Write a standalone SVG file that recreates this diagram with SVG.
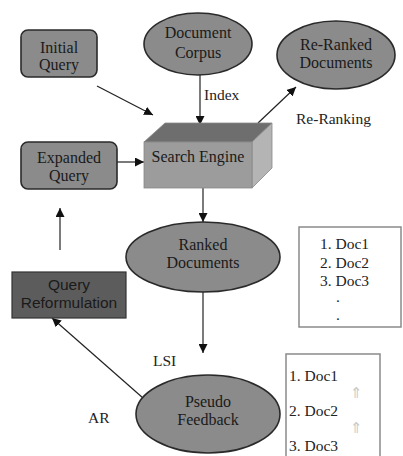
<svg xmlns="http://www.w3.org/2000/svg" width="403" height="456" viewBox="0 0 403 456">
<defs>
<marker id="ah" viewBox="0 0 10 10" refX="10" refY="5" markerWidth="9" markerHeight="9" markerUnits="userSpaceOnUse" orient="auto">
<path d="M0,0 L10,5 L0,10 z" fill="#111"/>
</marker>
<style>
.serif{font-family:"Liberation Serif","Times New Roman",serif;font-size:16px;fill:#1a1a1a;text-anchor:middle}
.lbl{font-family:"Liberation Serif","Times New Roman",serif;font-size:15.5px;fill:#222}
.sans{font-family:"Liberation Sans",Arial,sans-serif;font-size:15.5px;fill:#1a1a1a;text-anchor:middle}
.node{fill:#8b8b8b;stroke:#2a2a2a;stroke-width:1.6}
.conn{stroke:#222;stroke-width:1.2;fill:none}
.list{fill:#fff;stroke:#8a8a8a;stroke-width:1.5}
.up{font-family:"DejaVu Sans",sans-serif;font-size:15px;fill:#c8c8c8;text-anchor:middle}
</style>
</defs>
<rect width="403" height="456" fill="#fff"/>

<g id="connectors">
<line class="conn" x1="97" y1="86" x2="153" y2="115" marker-end="url(#ah)"/>
<line class="conn" x1="200" y1="75" x2="200" y2="125" stroke="#777" marker-end="url(#ah)"/>
<line class="conn" x1="258" y1="123" x2="296" y2="87" marker-end="url(#ah)"/>
<line class="conn" x1="117" y1="162" x2="144" y2="162" marker-end="url(#ah)"/>
<line class="conn" x1="203" y1="188" x2="203" y2="222" marker-end="url(#ah)"/>
<line class="conn" x1="203" y1="292" x2="203" y2="353" marker-end="url(#ah)"/>
<line class="conn" x1="60" y1="250" x2="60" y2="208" marker-end="url(#ah)"/>
<line class="conn" x1="143" y1="398" x2="52" y2="318" stroke="#444" marker-end="url(#ah)"/>
<text class="lbl" x="204" y="100">Index</text>
<text class="lbl" x="296" y="124">Re-Ranking</text>
<text class="lbl" x="153" y="366">LSI</text>
<text class="lbl" x="88" y="423">AR</text>
</g>

<g id="initial-query">
<rect class="node" x="21" y="30" width="76" height="47" rx="7"/>
<text class="serif" x="59" y="53">Initial</text>
<text class="serif" x="59" y="70">Query</text>
</g>

<g id="document-corpus">
<ellipse class="node" cx="198" cy="44" rx="54" ry="31"/>
<text class="serif" x="198" y="38">Document</text>
<text class="serif" x="198" y="58">Corpus</text>
</g>

<g id="re-ranked-documents">
<ellipse class="node" cx="336" cy="55" rx="59" ry="34"/>
<text class="serif" x="336" y="50">Re-Ranked</text>
<text class="serif" x="336" y="68">Documents</text>
</g>

<g id="expanded-query">
<rect class="node" x="21" y="142" width="96" height="47" rx="7"/>
<text class="serif" x="69" y="163">Expanded</text>
<text class="serif" x="69" y="181">Query</text>
</g>

<g id="search-engine">
<polygon points="144,142 165,123 272,123 252,142" fill="#6e6e6e" stroke="#888" stroke-width="0.8"/>
<polygon points="252,142 272,123 272,168 252,188" fill="#b4b4b4" stroke="#888" stroke-width="0.8"/>
<rect x="144" y="142" width="108" height="46" fill="#9c9c9c" stroke="#888" stroke-width="0.8"/>
<text class="serif" x="198" y="162">Search Engine</text>
</g>

<g id="ranked-documents">
<ellipse class="node" cx="203" cy="257" rx="77" ry="35"/>
<text class="serif" x="203" y="250">Ranked</text>
<text class="serif" x="203" y="268">Documents</text>
</g>

<g id="ranked-list">
<rect class="list" x="299" y="227" width="102" height="100"/>
<text class="lbl" x="320" y="249">1. Doc1</text>
<text class="lbl" x="320" y="268">2. Doc2</text>
<text class="lbl" x="320" y="286">3. Doc3</text>
<text class="lbl" x="336" y="302">.</text>
<text class="lbl" x="336" y="320">.</text>
</g>

<g id="query-reformulation">
<rect x="12" y="272" width="114" height="46" fill="#5c5c5c" stroke="#333" stroke-width="1.2"/>
<text class="sans" x="69" y="290">Query</text>
<text class="sans" x="69" y="308">Reformulation</text>
</g>

<g id="pseudo-feedback">
<ellipse class="node" cx="208" cy="414" rx="72" ry="39"/>
<text class="serif" x="208" y="407">Pseudo</text>
<text class="serif" x="208" y="425">Feedback</text>
</g>

<g id="feedback-list">
<rect class="list" x="286" y="354" width="94" height="110"/>
<text class="lbl" x="289" y="381">1. Doc1</text>
<text class="lbl" x="289" y="416">2. Doc2</text>
<text class="lbl" x="289" y="451">3. Doc3</text>
<text class="up" x="356" y="398">⇑</text>
<text class="up" x="356" y="433">⇑</text>
</g>
</svg>
